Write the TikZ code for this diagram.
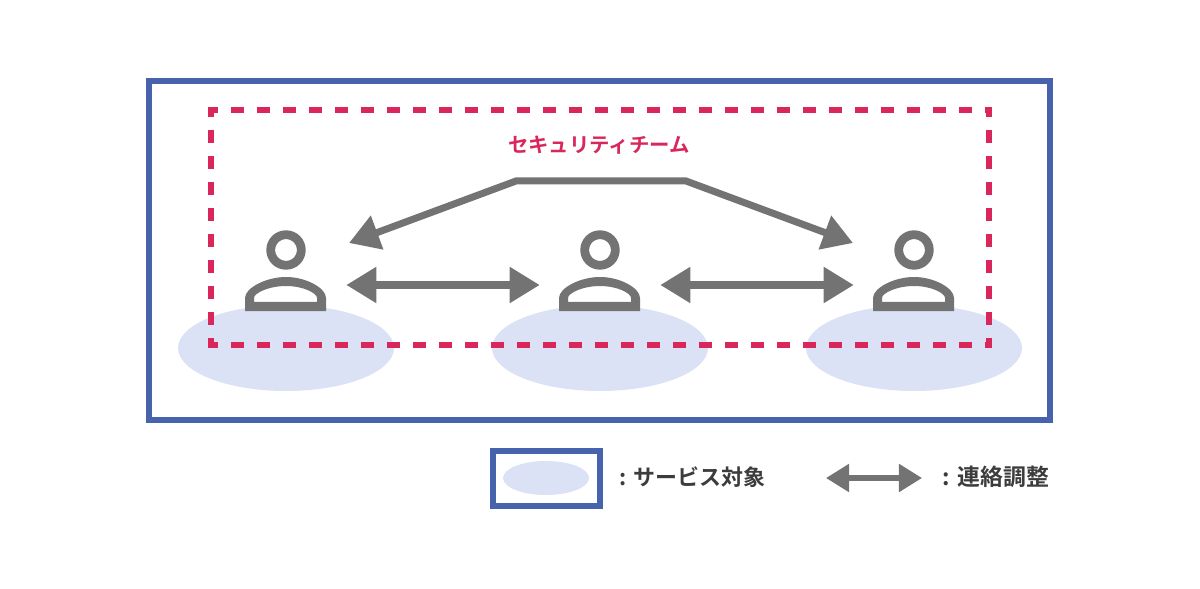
\documentclass[tikz,border=0pt]{standalone}
\usepackage{fontspec}
\usepackage{xcolor}
\usetikzlibrary{arrows.meta}
\newfontfamily\cjk{Noto Sans CJK JP}[BoldFont=* Bold]
\definecolor{frameblue}{HTML}{4763AD}
\definecolor{teamred}{HTML}{D9275B}
\definecolor{iconGray}{HTML}{737373}
\definecolor{targetblue}{HTML}{DCE2F6}
\definecolor{labelgray}{HTML}{3C3C3C}
\tikzset{
    frameline/.style={draw=frameblue, line width=0.15cm},
    teamline/.style={draw=teamred, line width=0.165cm, dash pattern=on 0.335cm off 0.315cm, dash phase=0.08cm},
    target/.style={fill=targetblue},
    iconring/.style={draw=iconGray, line width=0.22cm},
    iconbody/.style={fill=iconGray, even odd rule},
    twoway/.style={draw=iconGray, line width=0.175cm, {Triangle[length=0.75cm,width=0.86cm]}-{Triangle[length=0.75cm,width=0.86cm]}},
    legendway/.style={draw=iconGray, line width=0.13cm, {Triangle[length=0.58cm,width=0.68cm]}-{Triangle[length=0.58cm,width=0.68cm]}},
    personbox/.style={inner sep=0pt, minimum width=3cm, minimum height=2.1cm},
    teamtext/.style={text=teamred, font=\cjk\bfseries\fontsize{14.5}{17}\selectfont},
    legendtext/.style={text=labelgray, anchor=west, font=\cjk\bfseries\fontsize{15.6}{18}\selectfont},
    waytext/.style={legendtext, font=\cjk\bfseries\fontsize{16.3}{18}\selectfont}
}
\begin{document}
\begin{tikzpicture}[x=0.025cm, y=-0.025cm]
        \useasboundingbox (0,0) rectangle (1200,589);
        \draw[frameline] (149,81) rectangle (1050,420);

        % targets and persons
        \foreach \px in {286, 600, 914} {
            \fill[target] (\px,348) ellipse (108 and 43);
        }
        \draw[teamline] (208,110) -- (992,110) (989,107) -- (989,348) (208,345) -- (992,345) (211,107) -- (211,348);
        \foreach \px/\pname in {286/personA, 600/personB, 914/personC} {
            \node[personbox] (\pname) at (\px,285) {};
            \draw[iconring] (\px,250) circle (15.3);
            \fill[iconbody] (\px-41,311) -- (\px-41,298) .. controls (\px-41,288) and (\px-20,277) .. (\px,277) .. controls (\px+20,277) and (\px+40,288) .. (\px+40,298) -- (\px+40,311) -- cycle
                (\px-32,302) -- (\px-32,298) .. controls (\px-32,293) and (\px-17,286) .. (\px,286) .. controls (\px+17,286) and (\px+31,293) .. (\px+31,298) -- (\px+31,302) -- cycle;
        }
        \node[teamtext] (teamlabel) at (599,145) {セキュリティチーム};

        \draw[twoway] (personA) -- (personB);
        \draw[twoway] (personB) -- (personC);
        \coordinate (tipA) at (349,243);
        \coordinate (bendA) at (516,181);
        \coordinate (bendC) at (686,181);
        \coordinate (tipC) at (853,243);
        \draw[twoway] (tipA) -- (bendA) -- (bendC) -- (tipC);

        % legend
        \draw[frameline] (492.5,451) rectangle (599.5,505.5);
        \fill[target] (546,478) ellipse (43 and 17);
        \node[legendtext] (targetlabel) at (615,477) {: サービス対象};
        \coordinate (waystart) at (826,478);
        \coordinate (wayend) at (922,478);
        \draw[legendway] (waystart) -- (wayend);
        \node[waytext] (waylabel) at (938,477) {: 連絡調整};
    \end{tikzpicture}
\end{document}
